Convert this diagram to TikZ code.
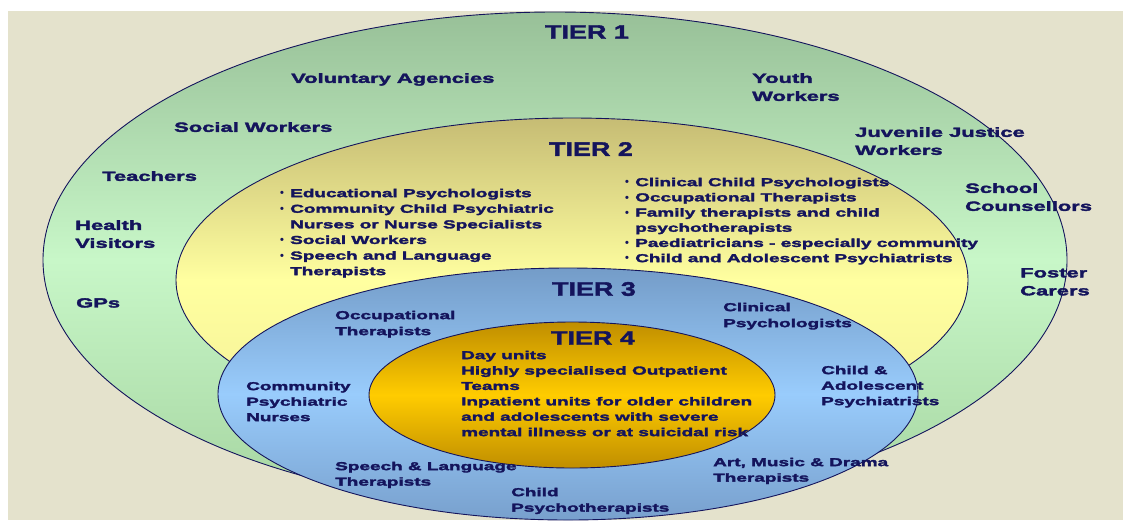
\documentclass[tikz,border=0pt]{standalone}
\usepackage{fontspec}
\newfontfamily\labelfont[FakeStretch=1.65,FakeBold=2.6]{Liberation Sans Bold}
\newfontfamily\tierfont[FakeStretch=1.38,FakeBold=2]{Liberation Sans Bold}
\newfontfamily\dotfont{Liberation Sans Bold}

\definecolor{ink}{RGB}{20,20,92}
\definecolor{paper}{RGB}{228,226,204}
\definecolor{greenTop}{RGB}{152,192,152}
\definecolor{greenMid}{RGB}{200,247,200}
\definecolor{greenBot}{RGB}{165,212,160}
\definecolor{yellowTop}{RGB}{198,188,116}
\definecolor{yellowMid}{RGB}{255,255,160}
\definecolor{yellowBot}{RGB}{242,238,150}
\definecolor{blueTop}{RGB}{116,156,200}
\definecolor{blueMid}{RGB}{153,204,252}
\definecolor{blueBot}{RGB}{120,160,205}
\definecolor{goldTop}{RGB}{192,142,0}
\definecolor{goldMid}{RGB}{255,204,0}
\definecolor{goldBot}{RGB}{192,142,0}

% round bullet and matching hanging indent
\newcommand\bul{\makebox[10pt][l]{\dotfont\fontsize{11}{11}\selectfont\raisebox{0.2pt}{•}}}
\newcommand\hang{\hspace*{10pt}}

\tikzset{
  lbl/.style={anchor=north west, inner sep=0pt, align=left, text=ink,
    font=\labelfont\fontsize{11.5}{15.5}\selectfont},
  outer/.style={lbl, font=\labelfont\fontsize{13.3}{18}\selectfont},
  tier/.style={anchor=center, inner sep=0pt, text=ink,
    font=\tierfont\fontsize{19.5}{22}\selectfont},
  ring/.style={draw=ink, line width=0.9pt}
}

\begin{document}
\begin{tikzpicture}[x=1pt,y=-1pt]
\useasboundingbox (0,0) rectangle (1123,520);
\fill[white] (0,0) rectangle (1123,520);
\fill[paper] (8,11) rectangle (1123,520);

% the four nested tiers
\path[ring, top color=greenTop, bottom color=greenBot, middle color=greenMid]
  (555,260) ellipse [x radius=512, y radius=248];
\path[ring, top color=yellowTop, bottom color=yellowBot, middle color=yellowMid]
  (572,280) ellipse [x radius=396, y radius=162];
\path[ring, top color=blueTop, bottom color=blueBot, middle color=blueMid]
  (568,394) ellipse [x radius=350, y radius=126];
\path[ring, top color=goldTop, bottom color=goldBot, middle color=goldMid]
  (572,395) ellipse [x radius=203, y radius=73];

% tier headings
\node[tier] (tier1) at (587,32) {TIER 1};
\node[tier] (tier2) at (591,149) {TIER 2};
\node[tier] (tier3) at (594,289) {TIER 3};
\node[tier] (tier4) at (593,338) {TIER 4};

% tier 1
\node[outer] (voluntary) at (291,73) {Voluntary Agencies};
\node[outer] (youth) at (752,73) {Youth\\Workers};
\node[outer] (social) at (174,122) {Social Workers};
\node[outer] (juvenile) at (855,127) {Juvenile Justice\\Workers};
\node[outer] (teachers) at (102,171) {Teachers};
\node[outer] (school) at (965,183) {School\\Counsellors};
\node[outer] (health) at (75,220) {Health\\Visitors};
\node[outer] (foster) at (1020,268) {Foster\\Carers};
\node[outer] (gps) at (76,298) {GPs};

% tier 2
\node[lbl, font=\labelfont\fontsize{11.5}{15.6}\selectfont] (t2left) at (280,188.6) {%
  \bul Educational Psychologists\\
  \bul Community Child Psychiatric\\
  \hang Nurses or Nurse Specialists\\
  \bul Social Workers\\
  \bul Speech and Language\\
  \hang Therapists};
\node[lbl, font=\labelfont\fontsize{11.5}{15.2}\selectfont] (t2right) at (625,177.6) {%
  \bul Clinical Child Psychologists\\
  \bul Occupational Therapists\\
  \bul Family therapists and child\\
  \hang psychotherapists\\
  \bul Paediatricians - especially community\\
  \bul Child and Adolescent Psychiatrists};

% tier 3
\node[lbl, font=\labelfont\fontsize{11.5}{16}\selectfont] (occ) at (335,310.6) {Occupational\\Therapists};
\node[lbl, font=\labelfont\fontsize{11.5}{16}\selectfont] (clin) at (723,302.6) {Clinical\\Psychologists};
\node[lbl] (cpn) at (246,381.6) {Community\\Psychiatric\\Nurses};
\node[lbl] (cap) at (821,365.6) {Child \&\\Adolescent\\Psychiatrists};
\node[lbl] (slt) at (335,461.6) {Speech \& Language\\Therapists};
\node[lbl] (amd) at (713,457.6) {Art, Music \& Drama\\Therapists};
\node[lbl] (cpt) at (511,487.6) {Child\\Psychotherapists};

% tier 4
\node[lbl, font=\labelfont\fontsize{11.5}{15.4}\selectfont] (t4list) at (461,350.6) {%
  Day units\\
  Highly specialised Outpatient\\
  Teams\\
  Inpatient units for older children\\
  and adolescents with severe\\
  mental illness or at suicidal risk};
\end{tikzpicture}
\end{document}
